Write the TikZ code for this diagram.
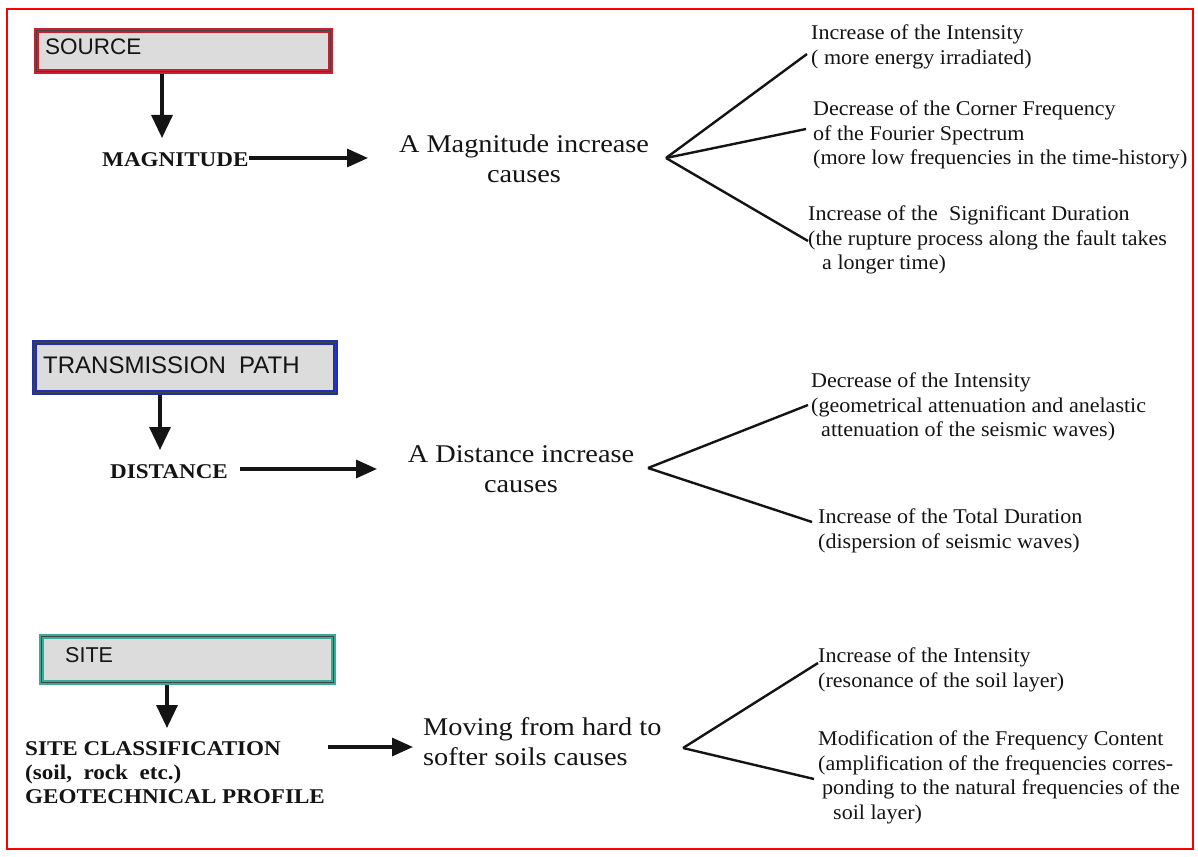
\documentclass[tikz,border=0pt]{standalone}
\usepackage{fontspec}
\setmainfont{Liberation Serif}
\newfontfamily\boxfont{Liberation Sans}
\newfontfamily\midfont[FakeStretch=1.11]{Liberation Serif}
\newfontfamily\rightfont[FakeStretch=1.05]{Liberation Serif}
\newfontfamily\leftfont[FakeStretch=1.1]{Liberation Serif}
\usetikzlibrary{arrows.meta}
\definecolor{srcred}{HTML}{C8202E}
\definecolor{pathblue}{HTML}{1E2FB4}
\definecolor{siteteal}{HTML}{3AAA98}
\definecolor{boxgray}{HTML}{DCDCDC}
\definecolor{ink}{HTML}{141414}
\begin{document}
\begin{tikzpicture}[x=1pt,y=-1pt,
  catbox/.style={draw=#1, line width=5pt, fill=boxgray, rectangle, inner sep=0pt, anchor=north west},
  boxlabel/.style={anchor=base west, inner sep=0pt, font=\boxfont\fontsize{#1}{#1}\selectfont, text=ink},
  leftlabel/.style={inner sep=0pt, font=\leftfont\bfseries\fontsize{21}{24.3}\selectfont, text=ink, align=left},
  midlabel/.style={inner sep=0pt, font=\midfont\fontsize{25.5}{30}\selectfont, text=ink},
  rightlabel/.style={anchor=north west, inner sep=0pt, font=\rightfont\fontsize{21}{24.5}\selectfont, text=ink, align=left},
  darr/.style={draw=ink, line width=3.4pt, -{Triangle[length=23pt,width=21pt]}},
  harr/.style={draw=ink, line width=3.2pt, -{Triangle[length=21pt,width=18pt]}},
  fan/.style={draw=ink, line width=2.4pt},
  inner/.style={draw=ink!80, line width=0.8pt}
]
\useasboundingbox (0,0) rectangle (1198,856);
\fill[white] (0,0) rectangle (1198,856);
\coordinate (frameNW) at (7,9);
\coordinate (frameSE) at (1193,849);
\draw[red, line width=2.5pt] (frameNW) rectangle (frameSE);

% ---------------- SOURCE ----------------
\node[catbox=srcred, minimum width=294pt, minimum height=41pt] (srcbox) at (34,28) {};
\draw[inner] ([shift={(2.5,2.5)}]srcbox.north west) rectangle ([shift={(-2.5,-2.5)}]srcbox.south east);
\node[boxlabel=22.5] (srclbl) at (45,55) {SOURCE};
\node[leftlabel, anchor=base west] (mag) at (102,166) {MAGNITUDE};
\coordinate (srcTip) at (162,138);
\draw[darr] (srcbox.south -| srcTip) -- (srcTip);
\coordinate (magTip) at (368,158);
\draw[harr] (mag.east |- magTip) -- (magTip);
\node[midlabel, anchor=north, align=center] (magcause) at (524,134.6) {A Magnitude increase\\causes};
\coordinate (fanA) at (666,158);
\coordinate (fanA1) at (807,54);
\coordinate (fanA2) at (806,129);
\coordinate (fanA3) at (808,241);
\draw[fan] (fanA) -- (fanA1);
\draw[fan] (fanA) -- (fanA2);
\draw[fan] (fanA) -- (fanA3);
\node[rightlabel] (a1) at (811,24.7) {Increase of the Intensity\\( more energy irradiated)};
\node[rightlabel] (a2) at (813,100.7) {Decrease of the Corner Frequency\\of the Fourier Spectrum\\(more low frequencies in the time-history)};
\node[rightlabel] (a3) at (808,205.7) {Increase of the\ \ Significant Duration\\(the rupture process along the fault takes\\\hspace*{14pt}a longer time)};

% ---------------- TRANSMISSION PATH ----------------
\node[catbox=pathblue, minimum width=301pt, minimum height=50pt] (pathbox) at (32,340) {};
\draw[inner] ([shift={(2.5,2.5)}]pathbox.north west) rectangle ([shift={(-2.5,-2.5)}]pathbox.south east);
\node[boxlabel=24] (pathlbl) at (43,373) {TRANSMISSION\ \ PATH};
\node[leftlabel, anchor=base west] (dist) at (110,478) {DISTANCE};
\coordinate (pathTip) at (160,450);
\draw[darr] (pathbox.south -| pathTip) -- (pathTip);
\coordinate (distStart) at (240,469);
\coordinate (distTip) at (377,469);
\draw[harr] (distStart) -- (distTip);
\node[midlabel, anchor=north, align=center] (distcause) at (521,445.6) {A Distance increase\\causes};
\coordinate (fanB) at (648,468);
\coordinate (fanB1) at (808,405);
\coordinate (fanB2) at (812,522);
\draw[fan] (fanB) -- (fanB1);
\draw[fan] (fanB) -- (fanB2);
\node[rightlabel] (b1) at (811,372.7) {Decrease of the Intensity\\(geometrical attenuation and anelastic\\\hspace*{10pt}attenuation of the seismic waves)};
\node[rightlabel] (b2) at (818,508.7) {Increase of the Total Duration\\(dispersion of seismic waves)};

% ---------------- SITE ----------------
\node[catbox=siteteal, minimum width=292pt, minimum height=46pt, line width=4.5pt] (sitebox) at (39,634) {};
\draw[inner] ([shift={(2.3,2.3)}]sitebox.north west) rectangle ([shift={(-2.3,-2.3)}]sitebox.south east);
\node[boxlabel=21.5] (sitelbl) at (65,662) {SITE};
\node[leftlabel, anchor=north west] (siteclass) at (25,741) {SITE CLASSIFICATION\\(soil,\ \ rock\ \ etc.)\\GEOTECHNICAL PROFILE};
\coordinate (siteTip) at (167,728);
\draw[darr] (sitebox.south -| siteTip) -- (siteTip);
\coordinate (siteStart) at (328,747);
\coordinate (siteArrTip) at (413,747);
\draw[harr] (siteStart) -- (siteArrTip);
\node[midlabel, anchor=north west, align=left] (sitecause) at (423,717.6) {Moving from hard to\\softer soils causes};
\coordinate (fanC) at (683,748);
\coordinate (fanC1) at (818,663);
\coordinate (fanC2) at (814,779);
\draw[fan] (fanC) -- (fanC1);
\draw[fan] (fanC) -- (fanC2);
\node[rightlabel] (c1) at (818,647.7) {Increase of the Intensity\\(resonance of the soil layer)};
\node[rightlabel] (c2) at (818,730.7) {Modification of the Frequency Content\\(amplification of the frequencies corres-\\\hspace*{4pt}ponding to the natural frequencies of the\\\hspace*{15pt}soil layer)};
\end{tikzpicture}
\end{document}
